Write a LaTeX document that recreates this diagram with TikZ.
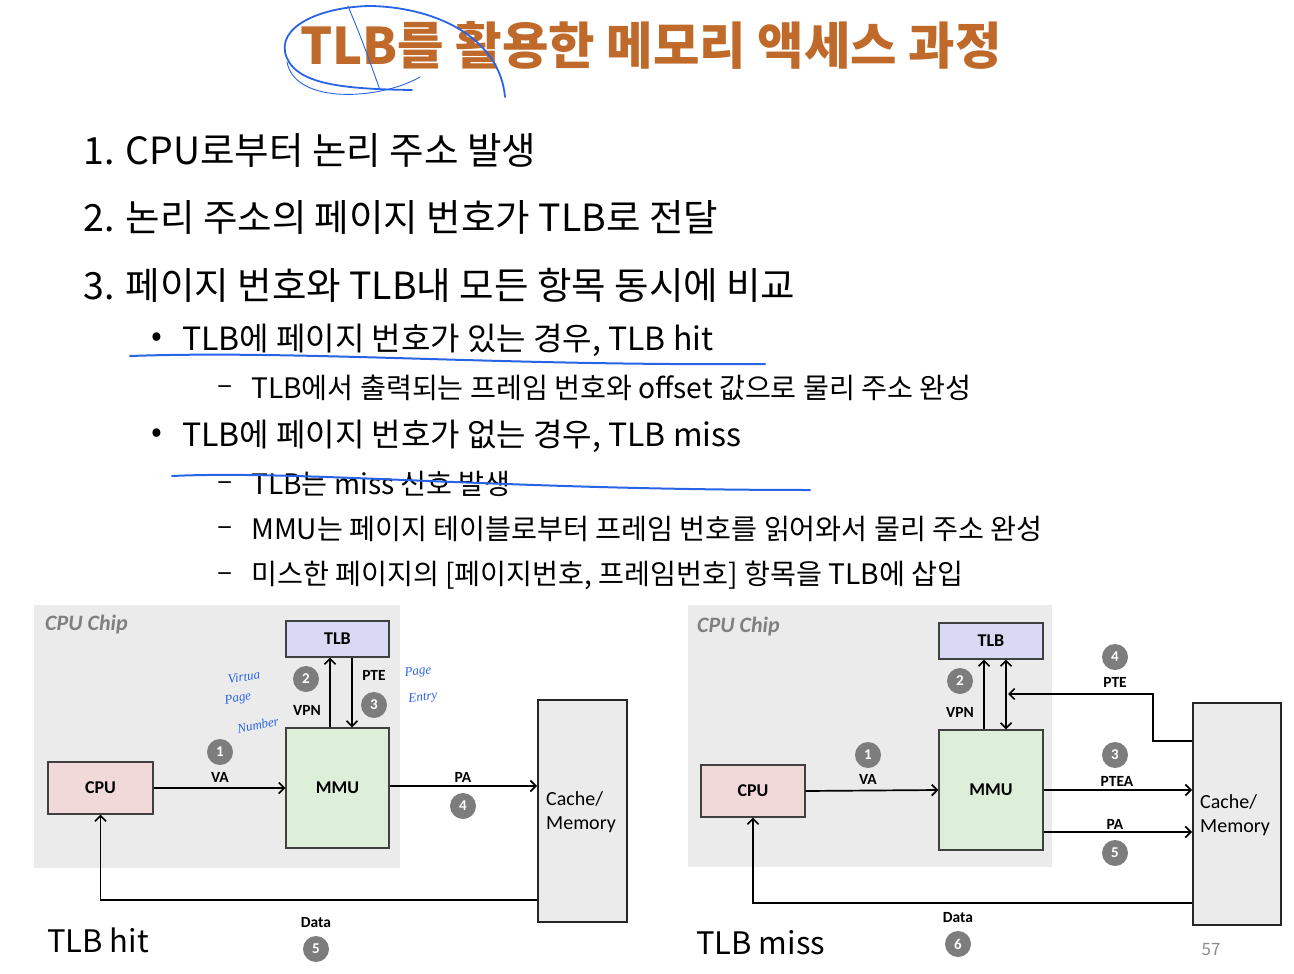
\documentclass[tikz,border=0pt]{standalone}
\usepackage{fontspec}
\setmainfont{Noto Sans CJK KR}
\newfontfamily\kr{Noto Sans CJK KR}
\newfontfamily\diag{Carlito}
\newfontfamily\hand{Liberation Serif}
\usetikzlibrary{arrows.meta}
\definecolor{titleor}{RGB}{191,106,42}
\definecolor{pen}{RGB}{40,100,230}
\definecolor{chipgray}{RGB}{235,235,235}
\definecolor{tlbfill}{RGB}{217,217,243}
\definecolor{mmufill}{RGB}{221,239,217}
\definecolor{cpufill}{RGB}{242,217,217}
\definecolor{numgray}{RGB}{125,125,125}
\begin{document}
\begin{tikzpicture}[x=1pt,y=-1pt,
  big/.style={anchor=west,inner sep=0pt,font=\kr\fontsize{37.5}{42}\selectfont},
  mid/.style={anchor=west,inner sep=0pt,font=\kr\fontsize{32}{36}\selectfont},
  small/.style={anchor=west,inner sep=0pt,font=\kr\fontsize{28.2}{32}\selectfont},
  chip/.style={fill=chipgray,draw=none},
  box/.style={draw=black!75,line width=1.1pt,inner sep=0pt,font=\diag\bfseries\fontsize{18}{20}\selectfont},
  membox/.style={draw=black!85,line width=1.8pt,fill=chipgray,inner sep=0pt},
  lbl/.style={inner sep=0pt,font=\diag\bfseries\fontsize{15.5}{17}\selectfont},
  num/.style={circle,fill=numgray,text=white,inner sep=0pt,minimum size=26pt,font=\diag\bfseries\fontsize{15}{17}\selectfont},
  chiplbl/.style={anchor=west,inner sep=0pt,text=black!50,font=\diag\bfseries\itshape\fontsize{22}{24}\selectfont},
  arr/.style={line width=1.7pt,-{Straight Barb[length=5.5pt,width=11pt,line width=1.7pt]}},
  arrb/.style={line width=1.7pt,{Straight Barb[length=5.5pt,width=11pt,line width=1.7pt]}-{Straight Barb[length=5.5pt,width=11pt,line width=1.7pt]}},
  ink/.style={pen,line width=1.4pt,line cap=round},
  handtxt/.style={pen,inner sep=0pt,font=\hand\itshape\fontsize{13}{14}\selectfont}
]
\useasboundingbox (0,0) rectangle (1294,974);

% Title
\node[inner sep=0pt,text=titleor,font=\kr\bfseries\fontsize{50.5}{58}\selectfont] (title) at (651,45) {TLB를 활용한 메모리 액세스 과정};

% Text lines
\node[big] (l1) at (83,150) {1. CPU로부터 논리 주소 발생};
\node[big] (l2) at (83,217) {2. 논리 주소의 페이지 번호가 TLB로 전달};
\node[big] (l3) at (83,285) {3. 페이지 번호와 TLB내 모든 항목 동시에 비교};
\node[mid,anchor=center] (b1) at (157,340) {•};
\node[mid] (t1) at (182,340) {TLB에 페이지 번호가 있는 경우, TLB hit};
\node[small,anchor=center] (d1) at (225,390) {–};
\node[small] (s1) at (251,388) {TLB에서 출력되는 프레임 번호와 offset 값으로 물리 주소 완성};
\node[mid,anchor=center] (b2) at (157,436) {•};
\node[mid] (t2) at (182,436) {TLB에 페이지 번호가 없는 경우, TLB miss};
\node[small,anchor=center] (d2) at (225,486) {–};
\node[small] (s2) at (251,484) {TLB는 miss 신호 발생};
\node[small,anchor=center] (d3) at (225,531) {–};
\node[small] (s3) at (251,529) {MMU는 페이지 테이블로부터 프레임 번호를 읽어와서 물리 주소 완성};
\node[small,anchor=center] (d4) at (225,577) {–};
\node[small] (s4) at (251,575) {미스한 페이지의 [페이지번호, 프레임번호] 항목을 TLB에 삽입};

% ---------------- Left diagram (TLB hit) ----------------
\path[chip] (34,605) rectangle (400,868);
\node[chiplbl] (chipL) at (45,625) {CPU Chip};
\node[box,fill=tlbfill,minimum width=103pt,minimum height=36pt] (tlbL) at (337.5,639) {TLB};
\node[box,fill=mmufill,minimum width=103pt,minimum height=120pt] (mmuL) at (337.5,788) {MMU};
\node[box,fill=cpufill,minimum width=105pt,minimum height=52pt] (cpuL) at (100.5,788) {CPU};
\node[membox,minimum width=89pt,minimum height=222pt] (memL) at (582.5,811) {};
\node[anchor=west,inner sep=0pt,align=left,font=\diag\fontsize{20}{24}\selectfont] (memLt) at (546,812) {Cache/\\Memory};
\coordinate (dataL) at (0,900);

\draw[arr] (cpuL.east) -- (mmuL.west);
\draw[arr] ([xshift=-7.5pt]mmuL.north) -- ([xshift=-7.5pt]tlbL.south);
\draw[arr] ([xshift=14.5pt]tlbL.south) -- ([xshift=14.5pt]mmuL.north);
\draw[arr] ([yshift=2pt]mmuL.east) -- ([yshift=2pt]memL.west |- mmuL.east);
\draw[arr] (memL.west |- dataL) -| (cpuL.south);

\node[num] (n1L) at (220,752) {1};
\node[lbl] (vaL) at (220,777) {VA};
\node[num] (n2L) at (306,679) {2};
\node[lbl] (vpnL) at (307,710) {VPN};
\node[lbl] (pteL) at (374,675) {PTE};
\node[num] (n3L) at (374,705) {3};
\node[lbl] (paL) at (463,777) {PA};
\node[num] (n4L) at (463,806) {4};
\node[lbl] (dataLt) at (316,923) {Data};
\node[num] (n5L) at (316,949) {5};
\node[anchor=west,inner sep=0pt,font=\kr\fontsize{31}{34}\selectfont] (hit) at (47,940) {TLB hit};

% handwritten notes
\node[handtxt,rotate=8] (hv) at (244,677) {Virtua};
\node[handtxt,rotate=10] (hp) at (238,699) {Page};
\node[handtxt,rotate=12] (hn) at (258,725) {Number};
\node[handtxt,rotate=6] (hp2) at (418,672) {Page};
\node[handtxt,rotate=6] (he) at (423,698) {Entry};

% ---------------- Right diagram (TLB miss) ----------------
\path[chip] (688,605) rectangle (1052,867);
\node[chiplbl] (chipR) at (697,627) {CPU Chip};
\node[box,fill=tlbfill,minimum width=104pt,minimum height=36pt] (tlbR) at (991,641) {TLB};
\node[box,fill=mmufill,minimum width=104pt,minimum height=120pt] (mmuR) at (991,790) {MMU};
\node[box,fill=cpufill,minimum width=104pt,minimum height=52pt] (cpuR) at (753,791) {CPU};
\node[membox,minimum width=88pt,minimum height=222pt] (memR) at (1237,814) {};
\node[anchor=west,inner sep=0pt,align=left,font=\diag\fontsize{20}{24}\selectfont] (memRt) at (1200,815) {Cache/\\Memory};
\coordinate (dataR) at (0,903);
\coordinate (pteA) at (1153,741);
\coordinate (pteB) at (1153,694);
\coordinate (pteE) at (1008,694);

\draw[arr] (cpuR.east) -- (mmuR.west);
\draw[arr] ([xshift=-7pt]mmuR.north) -- ([xshift=-7pt]tlbR.south);
\draw[arrb] ([xshift=15pt]mmuR.north) -- ([xshift=15pt]tlbR.south);
\draw[arr] (memR.west |- pteA) -- (pteA) -- (pteB) -- (pteE);
\draw[arr] (mmuR.east) -- (memR.west |- mmuR.east);
\draw[arr] ([yshift=-42pt]mmuR.east) -- ([yshift=-42pt]memR.west |- mmuR.east);
\draw[arr] (memR.west |- dataR) -| (cpuR.south);

\node[num] (n1R) at (868,755) {1};
\node[lbl] (vaR) at (868,779) {VA};
\node[num] (n2R) at (960,681) {2};
\node[lbl] (vpnR) at (960,712) {VPN};
\node[num] (n4R) at (1115,657) {4};
\node[lbl] (pteR) at (1115,682) {PTE};
\node[num] (n3R) at (1115,755) {3};
\node[lbl] (pteaR) at (1117,781) {PTEA};
\node[lbl] (paR) at (1115,824) {PA};
\node[num] (n5R) at (1115,853) {5};
\node[lbl] (dataRt) at (958,918) {Data};
\node[num] (n6R) at (958,944) {6};
\node[anchor=west,inner sep=0pt,font=\kr\fontsize{31}{34}\selectfont] (miss) at (696,943) {TLB miss};
\node[inner sep=0pt,text=black!45,font=\kr\fontsize{17}{20}\selectfont] (pg) at (1211,950) {57};

% ---------------- blue pen strokes ----------------
\draw[ink,line width=1.8pt] (412,90) .. controls (340,89) and (292,84) .. (285,52) .. controls (280,22) and (330,6) .. (372,6) .. controls (440,8) and (500,40) .. (505,97);
\draw[ink,line width=0.9pt] (348,6) .. controls (362,40) .. (380,90);
\draw[ink,line width=0.9pt] (287,62) .. controls (295,105) and (380,100) .. (420,77);
\draw[ink,line width=2pt] (130,356) .. controls (300,350) and (500,366) .. (765,364);
\draw[ink,line width=2pt] (172,476) .. controls (300,470) and (500,490) .. (810,490);
\end{tikzpicture}
\end{document}
